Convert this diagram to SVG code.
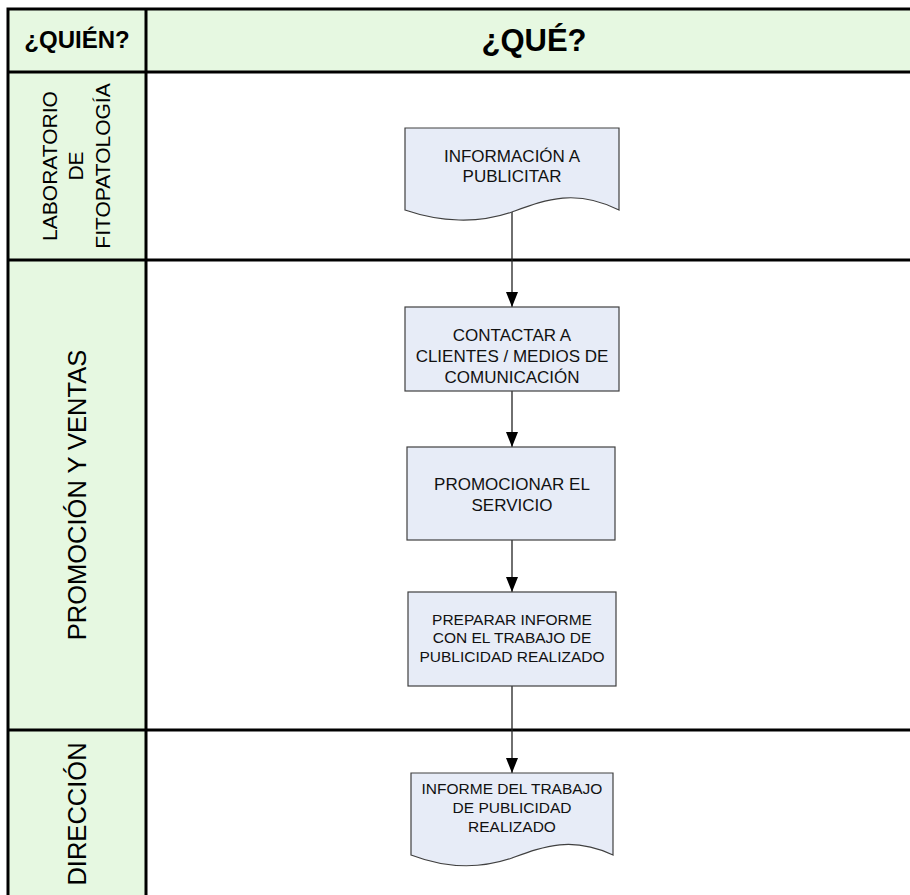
<svg xmlns="http://www.w3.org/2000/svg" width="910" height="895" viewBox="0 0 910 895">
  <style>
    .lane-fill { fill: #E6F8E1; }
    .grid { stroke: #000; stroke-width: 3; fill: none; }
    .shape { fill: #E7ECF7; stroke: #404040; stroke-width: 1.2; }
    .conn { stroke: #222; stroke-width: 1.3; fill: none; }
    .head { font-family: "Liberation Sans", Arial, sans-serif; font-weight: bold; fill: #000; text-anchor: middle; }
    .lane { font-family: "Liberation Sans", Arial, sans-serif; fill: #000; text-anchor: middle; }
    .lbl { font-family: "Liberation Sans", Arial, sans-serif; fill: #111; text-anchor: middle; }
  </style>
  <defs>
    <marker id="arrow" markerUnits="userSpaceOnUse" markerWidth="16" markerHeight="12" refX="15" refY="6" orient="auto">
      <path d="M0,0 L15,6 L0,12 Z" fill="#000"/>
    </marker>
  </defs>

  <rect width="910" height="895" fill="#fff"/>

  <!-- swimlane table -->
  <g id="table">
    <rect class="lane-fill" x="8" y="9" width="902" height="63"/>
    <rect class="lane-fill" x="8" y="72" width="138" height="823"/>
    <path class="grid" d="M8,895 V9 H910 M8,72 H910 M146,9 V895 M8,260 H910 M8,730 H910"/>
  </g>

  <g id="header-quien"><text class="head" x="77" y="48" font-size="24">¿QUIÉN?</text></g>
  <g id="header-que"><text class="head" x="534" y="51" font-size="31">¿QUÉ?</text></g>

  <g id="lane-laboratorio">
    <text class="lane" font-size="21" transform="translate(57,166) rotate(-90)">LABORATORIO</text>
    <text class="lane" font-size="21" transform="translate(83,166) rotate(-90)">DE</text>
    <text class="lane" font-size="21" transform="translate(110,166) rotate(-90)">FITOPATOLOGÍA</text>
  </g>
  <g id="lane-promocion">
    <text class="lane" font-size="25.5" transform="translate(86,495) rotate(-90)">PROMOCIÓN Y VENTAS</text>
  </g>
  <g id="lane-direccion">
    <text class="lane" font-size="25.5" transform="translate(86,814) rotate(-90)">DIRECCIÓN</text>
  </g>

  <!-- connectors -->
  <g id="connectors">
    <path class="conn" d="M512,212 V307" marker-end="url(#arrow)"/>
    <path class="conn" d="M512,391 V447" marker-end="url(#arrow)"/>
    <path class="conn" d="M512,540 V592" marker-end="url(#arrow)"/>
    <path class="conn" d="M512,686 V773" marker-end="url(#arrow)"/>
  </g>

  <!-- process nodes -->
  <g id="doc-informacion">
    <path class="shape" d="M405,128 H619 V210 C575,188 545,200 512,212 C478,224 440,222 405,210 Z"/>
    <text class="lbl" font-size="17" x="512" y="162">INFORMACIÓN A</text>
    <text class="lbl" font-size="17" x="512" y="182">PUBLICITAR</text>
  </g>

  <g id="contactar">
    <rect class="shape" x="405" y="307" width="214" height="84"/>
    <text class="lbl" font-size="17" x="512" y="341">CONTACTAR A</text>
    <text class="lbl" font-size="17" x="512" y="362">CLIENTES / MEDIOS DE</text>
    <text class="lbl" font-size="17" x="512" y="383">COMUNICACIÓN</text>
  </g>

  <g id="promocionar">
    <rect class="shape" x="407" y="447" width="208" height="93"/>
    <text class="lbl" font-size="17" x="512" y="490">PROMOCIONAR EL</text>
    <text class="lbl" font-size="17" x="512" y="511">SERVICIO</text>
  </g>

  <g id="preparar">
    <rect class="shape" x="408" y="592" width="208" height="94"/>
    <text class="lbl" font-size="15.5" x="512" y="625">PREPARAR INFORME</text>
    <text class="lbl" font-size="15.5" x="512" y="643">CON EL TRABAJO DE</text>
    <text class="lbl" font-size="15.5" x="512" y="662">PUBLICIDAD REALIZADO</text>
  </g>

  <g id="doc-informe">
    <path class="shape" d="M411,773 H613 V855 C572,836 545,846 512,858 C480,869 445,868 411,855 Z"/>
    <text class="lbl" font-size="15.5" x="512" y="794">INFORME DEL TRABAJO</text>
    <text class="lbl" font-size="15.5" x="512" y="813">DE PUBLICIDAD</text>
    <text class="lbl" font-size="15.5" x="512" y="832">REALIZADO</text>
  </g>
</svg>
